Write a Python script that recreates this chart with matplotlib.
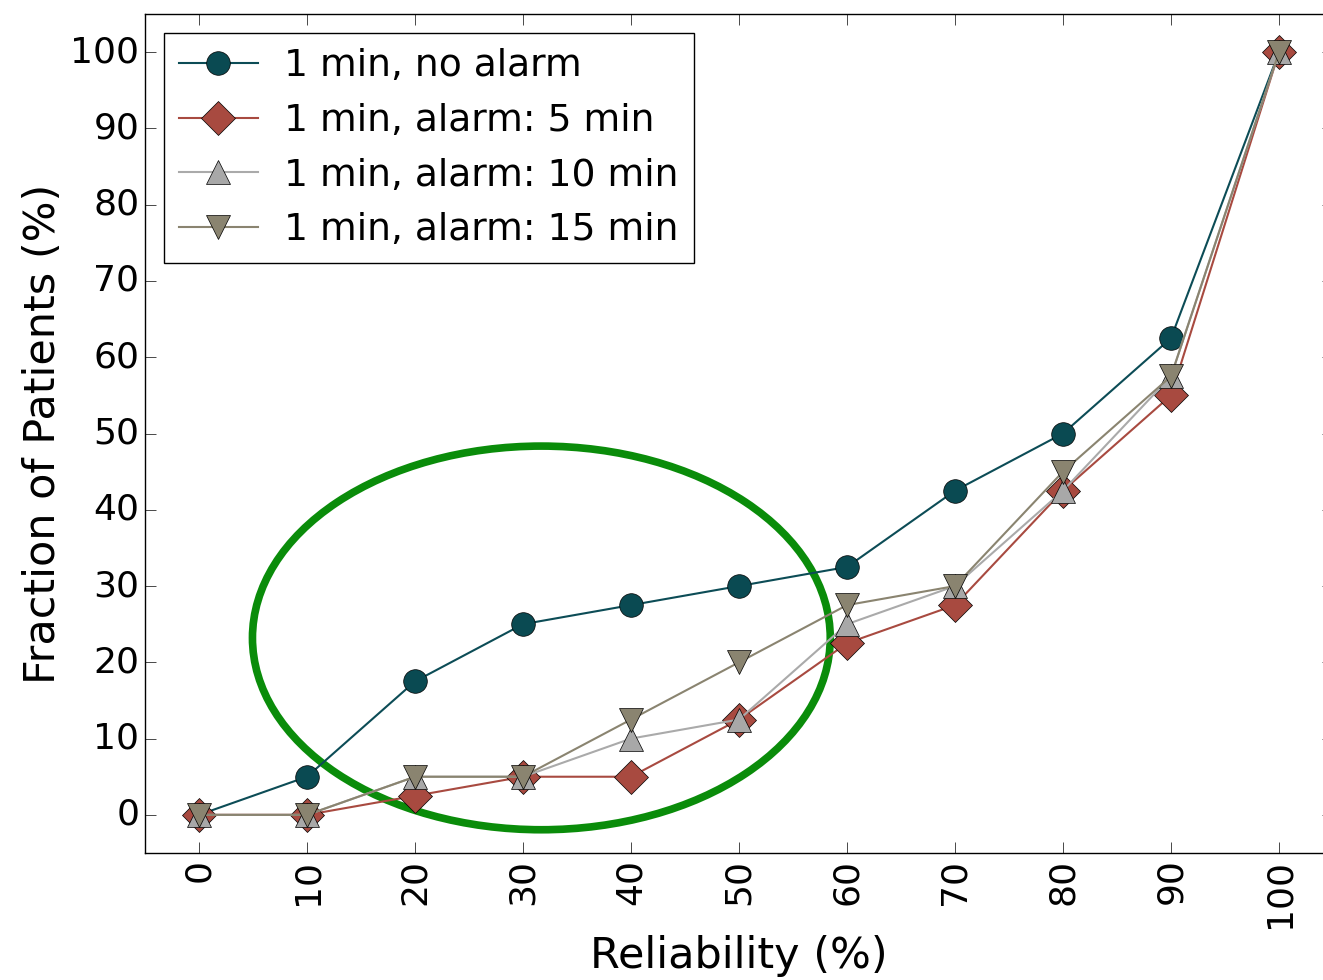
import matplotlib
matplotlib.use('Agg')
import matplotlib.pyplot as plt
from matplotlib.patches import Ellipse

plt.style.use('classic')

# data
reliability = [0, 10, 20, 30, 40, 50, 60, 70, 80, 90, 100]
no_alarm = [0, 5, 17.5, 25, 27.5, 30, 32.5, 42.5, 50, 62.5, 100]
alarm_5 = [0, 0, 2.5, 5, 5, 12.5, 22.5, 27.5, 42.5, 55, 100]
alarm_10 = [0, 0, 5, 5, 10, 12.5, 25, 30, 42.5, 57.5, 100]
alarm_15 = [0, 0, 5, 5, 12.5, 20, 27.5, 30, 45, 57.5, 100]

fig = plt.figure(figsize=(13.23, 9.8), dpi=100, facecolor='white')
ax = fig.add_axes([145 / 1323, 1 - 853 / 980, 1188 / 1323, 839 / 980])

ax.plot(reliability, no_alarm, '-o', color='#0c4c56', mfc='#0a4a52', mec='black',
        ms=17, lw=1.5, label='1 min, no alarm')
ax.plot(reliability, alarm_5, '-D', color='#a84a40', mfc='#a84a40', mec='black',
        ms=17, lw=1.5, label='1 min, alarm: 5 min')
ax.plot(reliability, alarm_10, '-^', color='#aaaaaa', mfc='#a8a8a8', mec='black',
        ms=17, lw=1.5, label='1 min, alarm: 10 min')
ax.plot(reliability, alarm_15, '-v', color='#8a8470', mfc='#8a8470', mec='black',
        ms=17, lw=1.5, label='1 min, alarm: 15 min')

# highlighted region
ax.add_patch(Ellipse((31.7, 23.2), 53.5, 50.3, fill=False, edgecolor='#0a8c0a', lw=5.5))

ax.set_xlim(-5, 105)
ax.set_ylim(-5, 105)
ax.set_xticks(reliability)
ax.set_yticks(range(0, 101, 10))
ax.tick_params(labelsize=26, length=8)
plt.setp(ax.get_xticklabels(), rotation=90)
ax.set_xlabel('Reliability (%)', fontsize=31)
ax.set_ylabel('Fraction of Patients (%)', fontsize=31)

ax.legend(loc='upper left', fontsize=27.1, numpoints=1, fancybox=False,
          handlelength=2.1, handletextpad=0.7, borderaxespad=0.5, labelspacing=0.5)

fig.savefig('out.png', dpi=100, facecolor='white')
